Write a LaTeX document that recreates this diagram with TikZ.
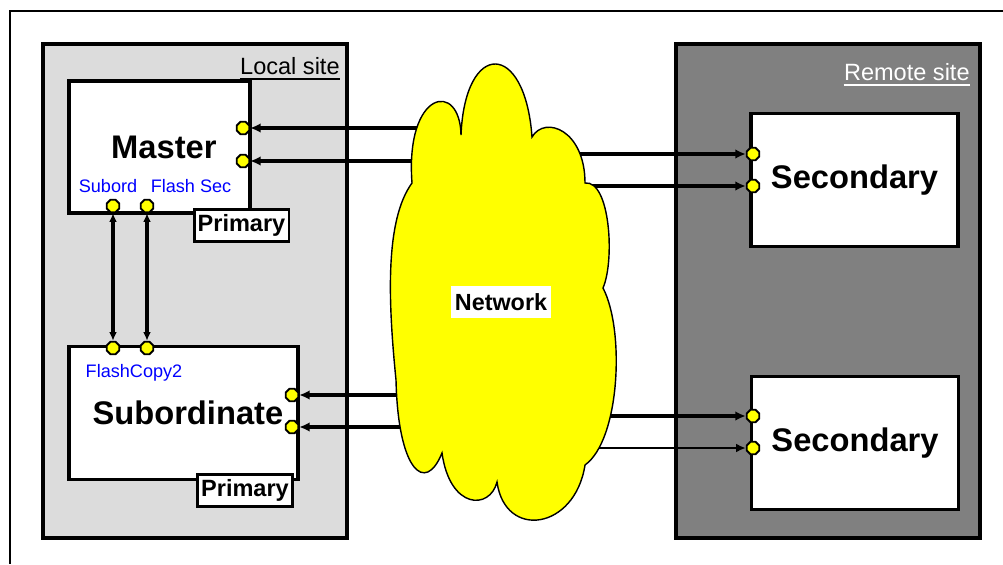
\documentclass[tikz,border=0pt]{standalone}
\usepackage{fontspec}
\setmainfont{Liberation Sans}
\usetikzlibrary{arrows.meta,positioning,shapes.geometric}
\definecolor{sitelo}{RGB}{220,220,220}
\definecolor{sitere}{RGB}{128,128,128}
\definecolor{netyel}{RGB}{255,255,0}
\definecolor{lblue}{RGB}{0,0,255}
\tikzset{
  site/.style={draw=black,line width=2pt,minimum width=6.08cm,minimum height=9.88cm,inner sep=0pt},
  unit/.style={draw=black,fill=white,line width=2pt,inner sep=0pt,
    font=\fontsize{18.6}{20}\selectfont\bfseries},
  tag/.style={draw=black,fill=white,line width=1.7pt,minimum width=1.9cm,minimum height=0.63cm,
    inner sep=0pt,font=\fontsize{13.4}{15}\selectfont\bfseries},
  port/.style={regular polygon,regular polygon sides=8,draw=black,fill=netyel,line width=1.1pt,
    minimum size=0.27cm,inner sep=0pt},
  arr/.style={-{Latex[length=6pt,width=5.5pt]},line width=2.1pt},
  arrthin/.style={-{Latex[length=5.5pt,width=5pt]},line width=1.1pt},
  dbl/.style={{Latex[length=5pt,width=4.5pt]}-{Latex[length=5pt,width=4.5pt]},line width=2pt},
  blu/.style={font=\fontsize{10.3}{12}\selectfont,text=lblue,inner sep=0pt},
  sitelbl/.style={font=\fontsize{13.4}{15}\selectfont,inner sep=0pt,anchor=south east},
}

\begin{document}
\begin{tikzpicture}[x=0.02cm,y=-0.02cm]
  \useasboundingbox (0,0) rectangle (1003,564);
  % frame
  \draw[line width=1.3pt] (1003,11) -- (10,11) -- (10,564);

  % sites
  \node[site,fill=sitelo] (local) at (195,291) {};
  \node[site,fill=sitere] (remote) at (828,291) {};
  \node[sitelbl] (llbl) at (340,75) {Local site};
  \node[sitelbl,text=white] (rlbl) at (970,81) {Remote site};
  \draw[line width=1.2pt] ([yshift=-2.3pt]llbl.south west) -- ([yshift=-2.3pt]llbl.south east);
  \draw[line width=1.2pt,white] ([yshift=-2.3pt]rlbl.south west) -- ([yshift=-2.3pt]rlbl.south east);

  % units
  \node[unit,minimum width=3.62cm,minimum height=2.64cm] (master) at (159.5,147) {\hspace*{5pt}Master};
  \node[tag] (prim1) at (241.5,225.5) {Primary};
  \node[unit,minimum width=4.58cm,minimum height=2.66cm] (sub) at (183.5,413) {\hspace*{5pt}Subordinate};
  \node[tag] (prim2) at (245,490.5) {Primary};
  \node[unit,minimum width=4.14cm,minimum height=2.66cm] (sec1) at (854.5,180) {Secondary};
  \node[unit,minimum width=4.14cm,minimum height=2.66cm] (sec2) at (855,443) {Secondary};

  % port labels
  \node[blu] (lsub) at (108,186) {Subord};
  \node[blu] (lfls) at (191,186) {Flash Sec};
  \node[blu] (lfc2) at (134,373) {FlashCopy2};

  % ports
  \node[port] (mA) at (243,128) {};
  \node[port] (mB) at (243,161) {};
  \node[port] (mS) at (113,206) {};
  \node[port] (mF) at (147,206) {};
  \node[port] (sS) at (113,348) {};
  \node[port] (sF) at (147,348) {};
  \node[port] (sA) at (292,395) {};
  \node[port] (sB) at (292,427) {};
  \node[port] (rA) at (753,154) {};
  \node[port] (rB) at (753,186) {};
  \node[port] (qA) at (753,416) {};
  \node[port] (qB) at (753,448) {};

  % links
  \coordinate (wL) at (440,300);
  \coordinate (wR) at (560,300);
  \foreach \p in {mA,mB,sA,sB}
    \draw[arr] (wL |- \p) -- (\p);
  \foreach \p in {rA,rB,qA}
    \draw[arr] (wR |- \p) -- (\p);
  \draw[arrthin] (wR |- qB) -- (qB);
  \foreach \a/\b in {mS/sS,mF/sF}
    \draw[dbl] (\a) -- (\b);

  % network cloud
  \path[draw=black,fill=netyel,line width=0.8pt] (412,183)
    .. controls (405,90) and (460,80) .. (461,135)
    .. controls (465,40) and (525,40) .. (532,137)
    .. controls (545,115) and (585,130) .. (585,183)
    .. controls (610,180) and (615,260) .. (603,288)
    .. controls (625,330) and (620,440) .. (585,465)
    .. controls (575,530) and (505,540) .. (497,482)
    .. controls (490,510) and (450,510) .. (442,453)
    .. controls (425,495) and (398,470) .. (396,380)
    .. controls (388,300) and (385,220) .. (412,183) -- cycle;
  \node[fill=white,inner xsep=2pt,inner ysep=4pt,font=\fontsize{13.3}{15}\selectfont\bfseries] (net) at (501,302) {Network};
\end{tikzpicture}
\end{document}
